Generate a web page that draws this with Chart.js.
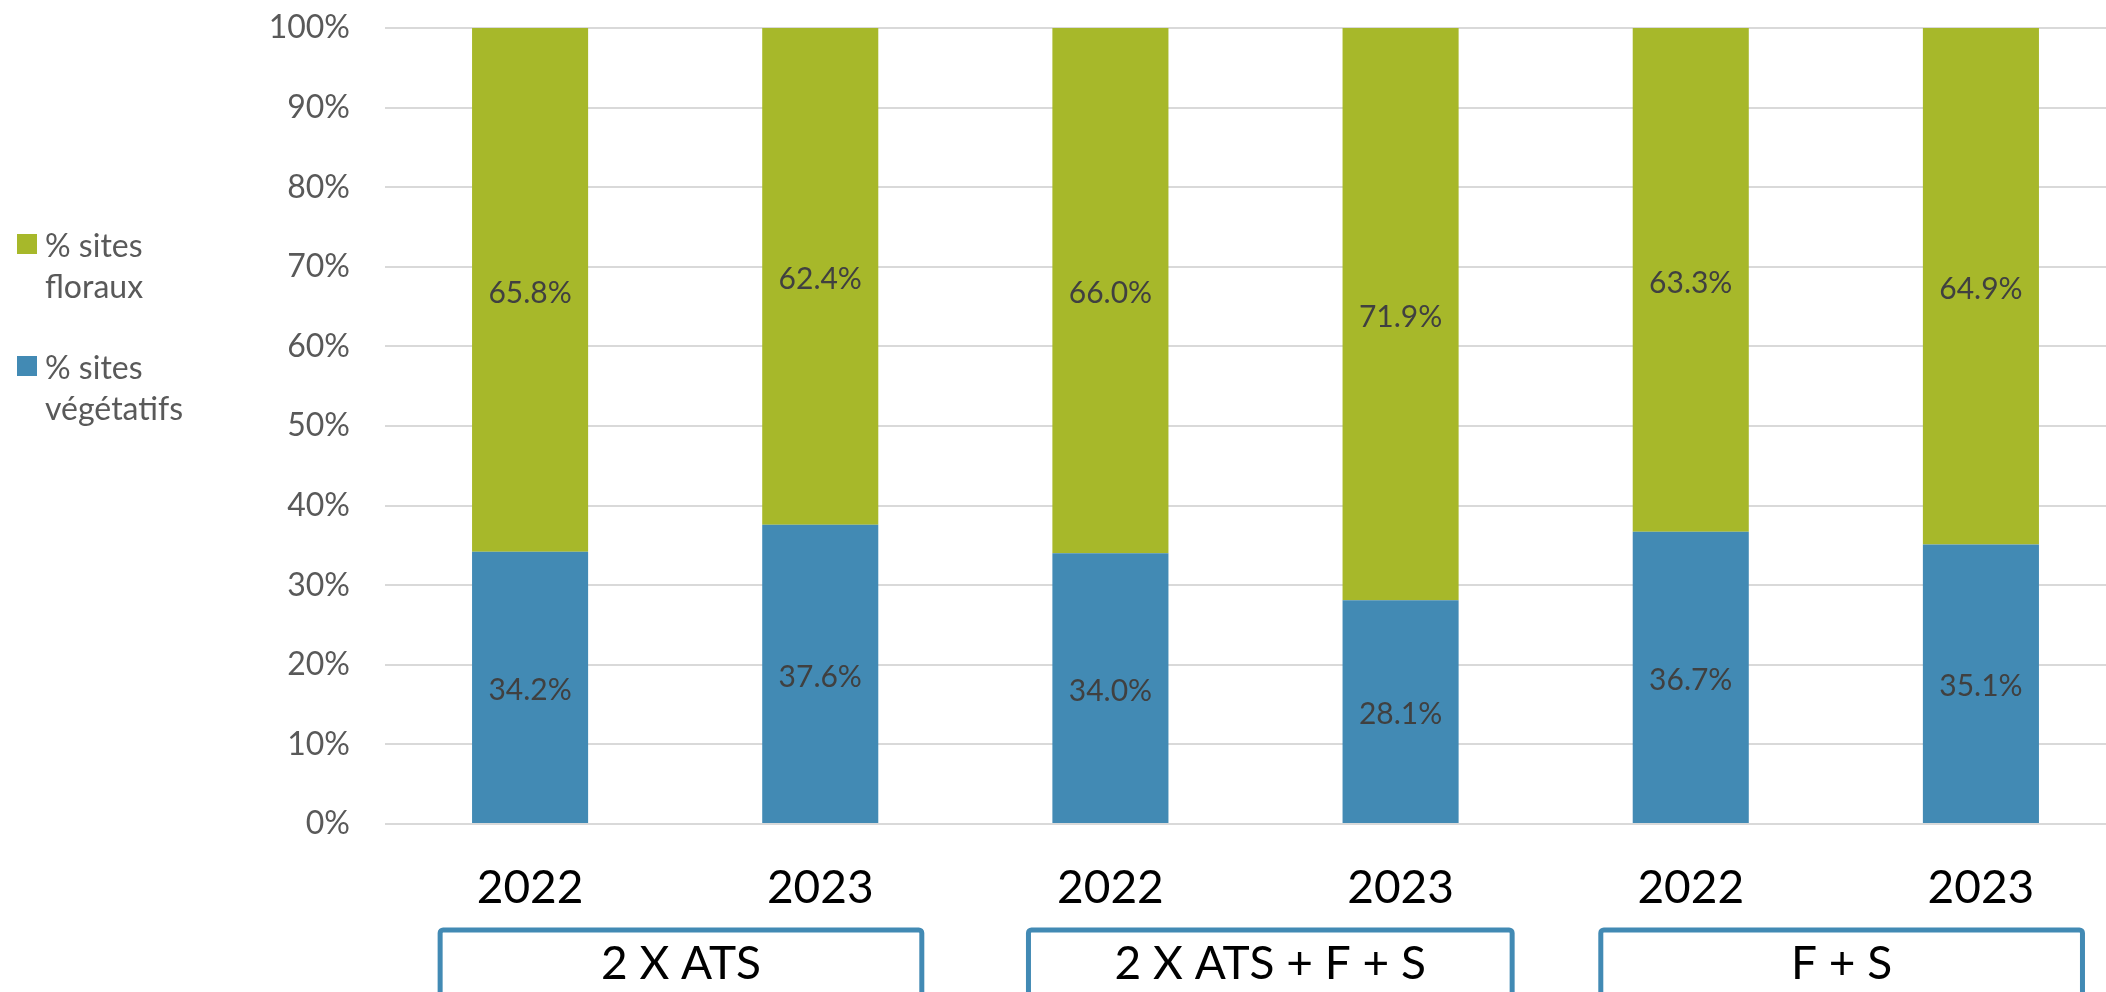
<!DOCTYPE html>
<html>
<head>
<meta charset="utf-8">
<script src="https://cdn.jsdelivr.net/npm/chart.js@4.4.1/dist/chart.umd.min.js"></script>
<style>
  html, body { margin: 0; padding: 0; background: #fff; overflow: hidden; }
  #wrap { position: relative; width: 2126px; height: 992px; }
</style>
</head>
<body>
<div id="wrap"><canvas id="myChart"></canvas></div>
<script>
// data
var years = ['2022', '2023', '2022', '2023', '2022', '2023'];
var vegetatifs = [34.2, 37.6, 34.0, 28.1, 36.7, 35.1];
var floraux = [65.8, 62.4, 66.0, 71.9, 63.3, 64.9];
var groupLabels = ['2 X ATS', '2 X ATS + F + S', 'F + S'];
var groupStart = [0, 2, 4];
var groupEnd = [1, 3, 5];
var yTicks = [0, 10, 20, 30, 40, 50, 60, 70, 80, 90, 100];

var GREEN = '#a7b82a';
var BLUE = '#428ab4';
var FONT = "'Gill Sans', Lato, sans-serif";

var valueLabels = {
  id: 'valueLabels',
  afterDatasetsDraw: function(chart) {
    var ctx = chart.ctx;
    ctx.save();
    ctx.font = '30px ' + FONT;
    ctx.fillStyle = '#404040';
    ctx.textAlign = 'center';
    ctx.textBaseline = 'middle';
    chart.data.datasets.forEach(function(ds, i) {
      chart.getDatasetMeta(i).data.forEach(function(bar, j) {
        ctx.fillText(ds.data[j].toFixed(1) + '%', bar.x, (bar.y + bar.base) / 2 + 3);
      });
    });
    ctx.restore();
  }
};

var groupBoxes = {
  id: 'groupBoxes',
  afterDraw: function(chart) {
    var ctx = chart.ctx;
    var x = chart.scales.x;
    var step = x.getPixelForValue(1) - x.getPixelForValue(0);
    ctx.save();
    groupLabels.forEach(function(label, g) {
      var left = x.getPixelForValue(groupStart[g]) - step * 0.31;
      var right = x.getPixelForValue(groupEnd[g]) + step * 0.35;
      if (g === 1) { left += 8; right += 10; }
      var top = 930;
      ctx.strokeStyle = BLUE;
      ctx.lineWidth = 5;
      ctx.beginPath();
      ctx.roundRect(left, top, right - left, 120, 3);
      ctx.stroke();
      ctx.fillStyle = '#000';
      ctx.font = '46px ' + FONT;
      ctx.textAlign = 'center';
      ctx.textBaseline = 'middle';
      ctx.fillText(label, (left + right) / 2, 964);
    });
    ctx.restore();
  }
};

var sideLegend = {
  id: 'sideLegend',
  afterDraw: function(chart) {
    var ctx = chart.ctx;
    var items = [
      { color: GREEN, lines: ['% sites', 'floraux'], top: 234 },
      { color: BLUE, lines: ['% sites', 'végétatifs'], top: 356 }
    ];
    ctx.save();
    ctx.font = '32px ' + FONT;
    ctx.textAlign = 'left';
    ctx.textBaseline = 'alphabetic';
    items.forEach(function(it) {
      ctx.fillStyle = it.color;
      ctx.fillRect(17, it.top, 20, 20);
      ctx.fillStyle = '#595959';
      it.lines.forEach(function(line, k) {
        ctx.fillText(line, 45, it.top + 23 + k * 41);
      });
    });
    ctx.restore();
  }
};

var ctx = document.getElementById('myChart').getContext('2d');
var myChart = new Chart(ctx, {
  type: 'bar',
  data: {
    labels: years,
    datasets: [{
      label: '% sites végétatifs',
      data: vegetatifs,
      backgroundColor: BLUE,
      borderWidth: 0
    }, {
      label: '% sites floraux',
      data: floraux,
      backgroundColor: GREEN,
      borderWidth: 0
    }]
  },
  options: {
    responsive: true,
    maintainAspectRatio: false,
    animation: false,
    layout: { padding: { top: 28, left: 0, right: 0, bottom: 0 } },
    datasets: { bar: { categoryPercentage: 1, barPercentage: 0.4 } },
    scales: {
      x: {
        stacked: true,
        grid: { display: false },
        border: { display: false },
        ticks: {
          color: '#000',
          font: { family: FONT, size: 46 },
          padding: 29,
          maxRotation: 0
        },
        afterFit: function(scale) { scale.height = 168; }
      },
      y: {
        stacked: true,
        min: 0,
        max: 100,
        afterBuildTicks: function(scale) {
          scale.ticks = yTicks.map(function(v) { return { value: v }; });
        },
        grid: { color: '#d9d9d9', lineWidth: 2, drawTicks: false },
        border: { display: false },
        ticks: {
          color: '#595959',
          font: { family: FONT, size: 32 },
          padding: 35,
          callback: function(value) { return value + '%'; }
        },
        afterFit: function(scale) {
          scale.width = 385;
          scale.paddingTop = 20;
          scale.paddingBottom = 20;
        }
      }
    },
    plugins: {
      legend: { display: false },
      tooltip: { enabled: false }
    }
  },
  plugins: [valueLabels, groupBoxes, sideLegend]
});
</script>
</body>
</html>
